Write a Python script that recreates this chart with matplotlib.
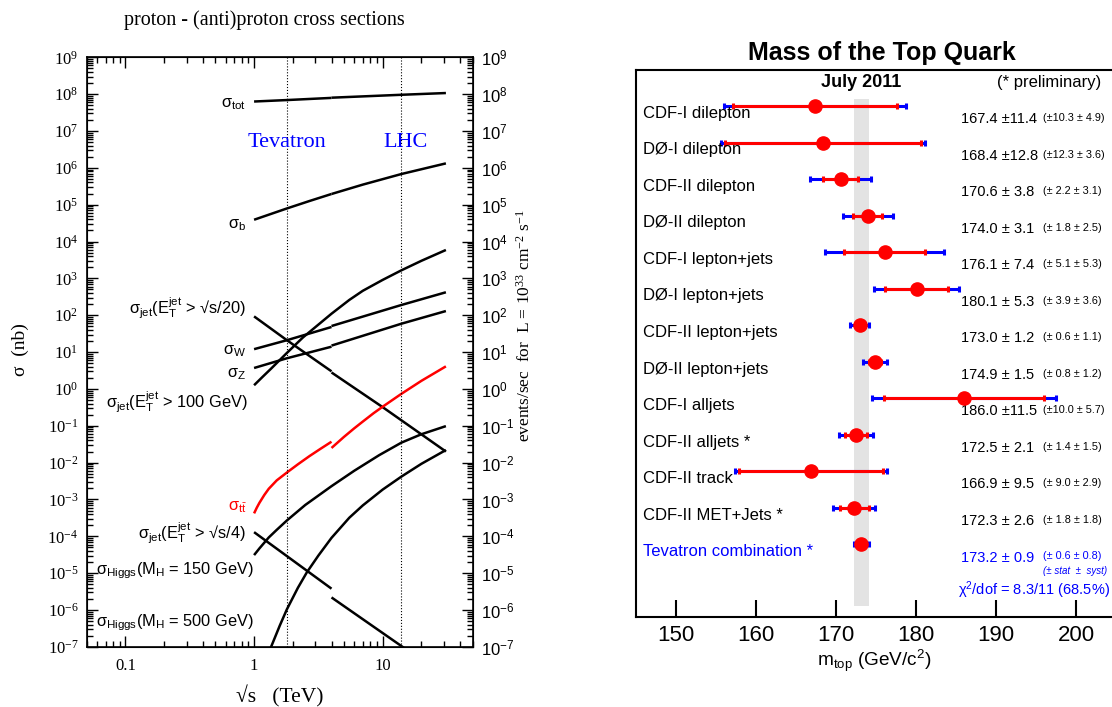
import numpy as np
import matplotlib
matplotlib.use('Agg')
import matplotlib.pyplot as plt
from matplotlib import ticker

plt.rcParams['font.family'] = ['Liberation Sans', 'DejaVu Sans']
plt.rcParams['mathtext.default'] = 'regular'
plt.rcParams['axes.unicode_minus'] = False
SERIF = ['Liberation Serif', 'DejaVu Serif']

# ---- left panel: cross sections (sqrt(s) in TeV, sigma in nb) ----
# p-pbar below 4 TeV, p-p above
tot_x1 = [1, 1.8, 4];            tot_y1 = [6.3e7, 6.9e7, 7.9e7]
tot_x2 = [4, 14, 31];            tot_y2 = [8.0e7, 9.6e7, 1.07e8]
b_x1 = [1, 1.8, 2.7, 4];         b_y1 = [3.9e4, 7.9e4, 1.26e5, 1.95e5]
b_x2 = [4, 7, 14, 31];           b_y2 = [1.95e5, 3.5e5, 6.8e5, 1.32e6]
js20_x1 = [1, 1.8, 4];           js20_y1 = [93, 21, 3.0]
js20_x2 = [4, 10, 31];           js20_y2 = [2.8, 0.32, 0.020]
w_x1 = [1, 1.8, 4];              w_y1 = [12, 21, 48]
w_x2 = [4, 14, 31];              w_y2 = [51, 190, 420]
z_x1 = [1, 1.8, 4];              z_y1 = [3.7, 6.8, 14]
z_x2 = [4, 14, 31];              z_y2 = [15, 59, 130]
j100_x = [1, 1.16, 1.35, 1.8, 2.4, 4, 5.5, 7, 10, 14, 20, 31]
j100_y = [1.26, 2.1, 3.5, 9.5, 25, 110, 260, 460, 910, 1660, 3000, 5900]
tt_x1 = [1, 1.05, 1.1, 1.2, 1.3, 1.5, 1.8, 2.2, 2.7, 3.3, 4]
tt_y1 = [4.2e-4, 6.0e-4, 8.1e-4, 1.32e-3, 1.95e-3, 3.3e-3, 5.4e-3, 9.1e-3, 1.51e-2, 2.4e-2, 3.7e-2]
tt_x2 = [4, 5, 6, 7, 8.5, 10, 14, 20, 31]
tt_y2 = [2.5e-2, 5.0e-2, 8.5e-2, 0.13, 0.22, 0.33, 0.74, 1.66, 4.1]
js4_x1 = [1, 4];                 js4_y1 = [1.3e-4, 3.8e-6]
js4_x2 = [4, 14, 31];            js4_y2 = [2.2e-6, 1.05e-7, 1.4e-8]
h150_x = [1, 1.1, 1.3, 1.5, 1.8, 2.5, 4, 6, 9.4, 14, 20, 31]
h150_y = [3.1e-5, 4.7e-5, 9.3e-5, 1.5e-4, 2.7e-4, 7.1e-4, 2.3e-3, 6.0e-3, 1.6e-2,
          3.5e-2, 5.9e-2, 9.8e-2]
h500_x = [1.3, 1.374, 1.585, 1.8, 2.19, 2.57, 3.16, 4, 5.5, 7, 10, 14, 20, 31]
h500_y = [7.1e-8, 1.12e-7, 3.8e-7, 1.05e-6, 4.0e-6, 1.05e-5, 3.0e-5, 9.1e-5, 3.2e-4,
          6.9e-4, 1.86e-3, 4.2e-3, 9.3e-3, 2.2e-2]

tevatron_rs = 1.8
lhc_rs = 14

# ---- right panel: top mass ----
names = ["CDF-I dilepton", "DØ-I dilepton", "CDF-II dilepton", "DØ-II dilepton",
         "CDF-I lepton+jets", "DØ-I lepton+jets", "CDF-II lepton+jets",
         "DØ-II lepton+jets", "CDF-I alljets", "CDF-II alljets *", "CDF-II track",
         "CDF-II MET+Jets *", "Tevatron combination *"]
mass = [167.4, 168.4, 170.6, 174.0, 176.1, 180.1, 173.0, 174.9, 186.0, 172.5, 166.9, 172.3, 173.2]
err_tot = [11.4, 12.8, 3.8, 3.1, 7.4, 5.3, 1.2, 1.5, 11.5, 2.1, 9.5, 2.6, 0.9]
err_stat = [10.3, 12.3, 2.2, 1.8, 5.1, 3.9, 0.6, 0.8, 10.0, 1.4, 9.0, 1.8, 0.6]
err_syst = [4.9, 3.6, 3.1, 2.5, 5.3, 3.6, 1.1, 1.2, 5.7, 1.5, 2.9, 1.8, 0.8]
mass_ticks = [150, 160, 170, 180, 190, 200]

fig = plt.figure(figsize=(11.12, 7.07), dpi=100)

# ================= left =================
ax = fig.add_axes([0.078, 0.085, 0.347, 0.834])
ax.set_xscale('log')
ax.set_yscale('log')
ax.set_xlim(0.05, 50)
ax.set_ylim(1e-7, 1e9)

lw = 1.8
segs = [(tot_x1, tot_y1), (tot_x2, tot_y2), (b_x1, b_y1), (b_x2, b_y2),
        (js20_x1, js20_y1), (js20_x2, js20_y2), (w_x1, w_y1), (w_x2, w_y2),
        (z_x1, z_y1), (z_x2, z_y2), (j100_x, j100_y), (js4_x1, js4_y1),
        (js4_x2, js4_y2), (h150_x, h150_y), (h500_x, h500_y)]
for xs, ys in segs:
    ax.plot(xs, ys, color='black', lw=lw, solid_capstyle='butt')
ax.plot(tt_x1, tt_y1, color='red', lw=lw, solid_capstyle='butt')
ax.plot(tt_x2, tt_y2, color='red', lw=lw, solid_capstyle='butt')

ax.axvline(tevatron_rs, color='black', ls=':', lw=0.8)
ax.axvline(lhc_rs, color='black', ls=':', lw=0.8)
ax.text(tevatron_rs, 10**6.69, 'Tevatron', color='blue', ha='center', va='center',
        fontsize=16, family=SERIF)
ax.text(15, 10**6.69, 'LHC', color='blue', ha='center', va='center',
        fontsize=16, family=SERIF)

lab_fs = 11.8
curve_labels = [
    (0.86, 7.72, r'σ$_{tot}$', 'black'),
    (0.86, 4.45, r'σ$_b$', 'black'),
    (0.86, 2.18, r'σ$_{jet}$(E$_T^{jet}$ > √s/20)', 'black'),
    (0.86, 1.03, r'σ$_W$', 'black'),
    (0.86, 0.41, r'σ$_Z$', 'black'),
    (0.90, -0.36, r'σ$_{jet}$(E$_T^{jet}$ > 100 GeV)', 'black'),
    (0.89, -3.2, r'σ$_{t\bar{t}}$', 'red'),
    (0.86, -3.93, r'σ$_{jet}$(E$_T^{jet}$ > √s/4)', 'black'),
    (1.0, -4.92, r'σ$_{Higgs}$(M$_H$ = 150 GeV)', 'black'),
    (1.0, -6.33, r'σ$_{Higgs}$(M$_H$ = 500 GeV)', 'black'),
]
for lx, ly, s, c in curve_labels:
    ax.text(lx, 10**ly, s, ha='right', va='center', fontsize=lab_fs, color=c)

ax.yaxis.set_major_locator(ticker.LogLocator(base=10, numticks=30))
ax.yaxis.set_minor_locator(ticker.LogLocator(base=10, subs=np.arange(2, 10), numticks=30))
ax.yaxis.set_minor_formatter(ticker.NullFormatter())
ax.xaxis.set_major_locator(ticker.LogLocator(base=10, numticks=10))
ax.xaxis.set_minor_locator(ticker.LogLocator(base=10, subs=np.arange(2, 10), numticks=10))
ax.xaxis.set_major_formatter(ticker.FuncFormatter(lambda v, p: f'{v:g}'))
ax.xaxis.set_minor_formatter(ticker.NullFormatter())
ax.tick_params(which='both', direction='in', top=True, right=False, width=1.0,
               labelsize=12, labelfontfamily='Liberation Serif')
ax.tick_params(which='major', length=8)
ax.tick_params(which='minor', length=4)
ax.tick_params(axis='x', pad=8)
ax.tick_params(axis='y', pad=6)
for sp in ax.spines.values():
    sp.set_linewidth(1.2)

ax2 = ax.twinx()
ax2.set_yscale('log')
ax2.set_ylim(1e-7, 1e9)
ax2.yaxis.set_major_locator(ticker.LogLocator(base=10, numticks=30))
ax2.yaxis.set_minor_locator(ticker.LogLocator(base=10, subs=np.arange(2, 10), numticks=30))
ax2.yaxis.set_minor_formatter(ticker.NullFormatter())
ax2.tick_params(which='both', direction='in', width=1.0, labelsize=12, pad=6,
                labelfontfamily='Liberation Sans')
ax2.tick_params(which='major', length=8)
ax2.tick_params(which='minor', length=4)

ax.set_xlabel('√s   (TeV)', family=SERIF, fontsize=15.5, labelpad=8)
fig.text(0.018, 0.505, 'σ  (nb)', rotation=90, ha='center', va='center',
         fontsize=14, family=SERIF)
fig.text(0.472, 0.54, 'events/sec  for  L = 10$^{33}$ cm$^{-2}$ s$^{-1}$', rotation=90,
         ha='center', va='center', fontsize=12.5, family=SERIF)
fig.text(0.238, 0.972, 'proton - (anti)proton cross sections', ha='center', va='center',
         fontsize=14.5, family=SERIF)

# ================= right =================
bx = fig.add_axes([0.5717, 0.1277, 0.4283, 0.7733])
bx.set_xlim(145, 204.5)
bx.set_ylim(13.98, -0.985)
rows = np.arange(len(names))

bx.axvspan(mass[-1] - err_tot[-1], mass[-1] + err_tot[-1], ymin=(13.98 - 13.7) / 14.965,
           ymax=(13.98 + 0.19) / 14.965, color='#e3e3e3', lw=0, zorder=0)
bx.errorbar(mass, rows, xerr=err_tot, fmt='none', ecolor='blue', elinewidth=2.2,
            capsize=2, capthick=2.2, zorder=2)
bx.errorbar(mass, rows, xerr=err_stat, fmt='none', ecolor='red', elinewidth=2.2,
            capsize=2, capthick=2.2, zorder=3)
bx.plot(mass, rows, 'o', color='red', ms=9.5, zorder=4)

tr = bx.get_yaxis_transform()
for i, (nm, m, et, es, ey) in enumerate(zip(names, mass, err_tot, err_stat, err_syst)):
    c = 'blue' if i == len(names) - 1 else 'black'
    bx.text(0.016, i + 0.2, nm, transform=tr, ha='left', va='center', fontsize=12, color=c)
    bx.text(0.684, i + 0.36, f'{m:.1f} ±{et:4.1f}', transform=tr, ha='left', va='center',
            fontsize=10.5, color=c)
    bx.text(0.855, i + 0.33, f'(±{es:4.1f} ±{ey:4.1f})', transform=tr, ha='left',
            va='center', fontsize=7.8, color=c)
bx.text(0.855, 12.72, '(± stat  ±  syst)', transform=tr, ha='left', va='center',
        fontsize=7, style='italic', color='blue')
bx.text(0.996, 13.25, r'$\chi^2$/dof = 8.3/11 (68.5%)', transform=tr, ha='right',
        va='center', fontsize=10.5, color='blue')
bx.text(mass[-1], -0.63, 'July 2011', ha='center', va='center', fontsize=13,
        fontweight='bold')
bx.text(0.868, -0.63, '(* preliminary)', transform=tr, ha='center', va='center',
        fontsize=12)

bx.set_xticks(mass_ticks)
bx.set_yticks([])
bx.tick_params(axis='x', direction='in', length=12, width=1.5, labelsize=16, pad=6)
bx.spines['right'].set_visible(False)
for s in ['left', 'top', 'bottom']:
    bx.spines[s].set_linewidth(1.5)
bx.set_xlabel('m$_{top}$ (GeV/c$^2$)', fontsize=13.7, labelpad=1)
fig.text(0.793, 0.925, 'Mass of the Top Quark', ha='center', va='center',
         fontsize=18, fontweight='bold')

fig.savefig('out.png', dpi=100)
